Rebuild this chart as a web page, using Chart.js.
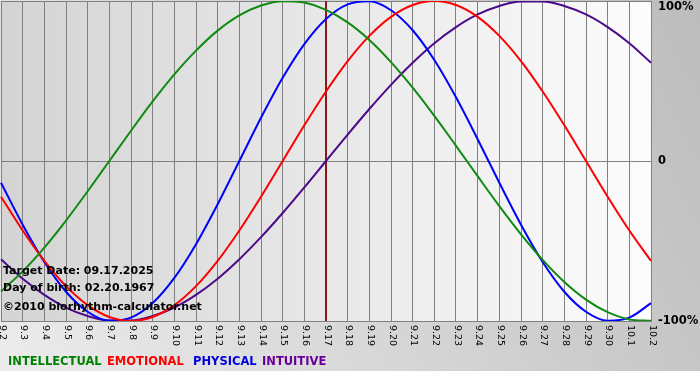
<!DOCTYPE html>
<html lang="en">
<head>
    <meta charset="UTF-8">
    <title>Biorhythm</title>
    <script src="https://cdn.jsdelivr.net/npm/chart.js"></script>
    <style>
        html, body { margin: 0; padding: 0; background: #fff; }
        canvas { display: block; }
    </style>
</head>
<body>
    <canvas id="bioChart" width="700" height="380"></canvas>

    <script>
        // day labels along the x axis
        const days = ['9.2', '9.3', '9.4', '9.5', '9.6', '9.7', '9.8', '9.9', '9.10', '9.11',
            '9.12', '9.13', '9.14', '9.15', '9.16', '9.17', '9.18', '9.19', '9.20', '9.21',
            '9.22', '9.23', '9.24', '9.25', '9.26', '9.27', '9.28', '9.29', '9.30', '10.1', '10.2'];

        // cycle values per day (-1 .. 1)
        const intellectual = [-0.815, -0.690, -0.541, -0.372, -0.189, 0, 0.189, 0.372, 0.541, 0.690,
            0.815, 0.910, 0.972, 0.999, 0.990, 0.945, 0.866, 0.756, 0.618, 0.458,
            0.282, 0.095, -0.095, -0.282, -0.458, -0.618, -0.756, -0.866, -0.945, -0.990, -0.999];
        const emotional = [-0.223, -0.434, -0.624, -0.782, -0.901, -0.975, -1, -0.975, -0.901, -0.782,
            -0.624, -0.434, -0.223, 0, 0.223, 0.434, 0.624, 0.782, 0.901, 0.975,
            1, 0.975, 0.901, 0.782, 0.624, 0.434, 0.223, 0, -0.223, -0.434, -0.624];
        const physical = [-0.136, -0.398, -0.631, -0.817, -0.942, -0.998, -0.979, -0.888, -0.731, -0.520,
            -0.270, 0, 0.270, 0.520, 0.731, 0.888, 0.979, 0.998, 0.942, 0.817,
            0.631, 0.398, 0.136, -0.136, -0.398, -0.631, -0.817, -0.942, -0.998, -0.979, -0.888];
        const intuitive = [-0.614, -0.736, -0.837, -0.916, -0.969, -0.997, -0.997, -0.969, -0.916, -0.837,
            -0.736, -0.614, -0.476, -0.325, -0.165, 0, 0.165, 0.325, 0.476, 0.614,
            0.736, 0.837, 0.916, 0.969, 0.997, 0.997, 0.969, 0.916, 0.837, 0.736, 0.614];

        const yTicks = [1, 0, -1];
        const yTickLabels = ['100%', '0', '-100%'];
        const targetLabel = '9.17';
        const infoLines = ['Target Date: 09.17.2025', 'Day of birth: 02.20.1967', '\u00a92010 biorhythm-calculator.net'];

        const seriesNames = ['INTELLECTUAL', 'EMOTIONAL', 'PHYSICAL', 'INTUITIVE'];
        const lineColors = ['#108a10', '#ff0000', '#0000ff', '#4b0a8a'];
        const legendColors = ['#008000', '#ff0000', '#0000dd', '#660099'];
        const legendX = [8, 107, 193, 262];

        const FONT = '"DejaVu Sans", Verdana, sans-serif';

        // backgrounds, target line, axis labels, info text and legend
        const decor = {
            id: 'decor',
            beforeDraw(chart) {
                const ctx = chart.ctx;
                const a = chart.chartArea;
                ctx.save();
                ctx.fillStyle = '#ffffff';
                ctx.fillRect(0, 0, chart.width, chart.height);
                const g = ctx.createLinearGradient(0, 370, 700, 0);
                g.addColorStop(0, '#ececec');
                g.addColorStop(1, '#bcbcbc');
                ctx.fillStyle = g;
                ctx.fillRect(0, 0, chart.width, 371);
                const pg = ctx.createLinearGradient(a.left, 0, a.right, 0);
                pg.addColorStop(0, '#d4d4d4');
                pg.addColorStop(1, '#fcfcfc');
                ctx.fillStyle = pg;
                ctx.fillRect(a.left, a.top, a.right - a.left, a.bottom - a.top);
                ctx.restore();
            },
            beforeDatasetsDraw(chart) {
                const ctx = chart.ctx;
                const a = chart.chartArea;
                const x = chart.scales.x.getPixelForValue(days.indexOf(targetLabel));
                ctx.save();
                ctx.strokeStyle = '#8b1a1a';
                ctx.lineWidth = 2;
                ctx.beginPath();
                ctx.moveTo(x, a.top);
                ctx.lineTo(x, a.bottom);
                ctx.stroke();
                ctx.restore();
            },
            afterDraw(chart) {
                const ctx = chart.ctx;
                const a = chart.chartArea;
                const xs = chart.scales.x;
                const ys = chart.scales.y;
                ctx.save();

                // rotated day labels
                ctx.fillStyle = '#000';
                ctx.font = '9.5px ' + FONT;
                ctx.textAlign = 'left';
                ctx.textBaseline = 'middle';
                days.forEach((d, i) => {
                    ctx.save();
                    ctx.translate(xs.getPixelForValue(i) + 1, a.bottom + 4);
                    ctx.rotate(Math.PI / 2);
                    ctx.fillText(d, 0, 0);
                    ctx.restore();
                });

                // percent labels on the right
                ctx.font = 'bold 11.5px ' + FONT;
                yTicks.forEach((v, i) => {
                    let y = ys.getPixelForValue(v);
                    if (v === 1) y += 6;
                    ctx.fillText(yTickLabels[i], a.right + 7, y);
                });

                // info text
                ctx.font = 'bold 11px ' + FONT;
                ctx.fillText(infoLines[0], 3, 271);
                ctx.fillText(infoLines[1], 3, 288);
                ctx.fillText(infoLines[2], 3, 307);

                // legend
                ctx.font = 'bold 11.5px ' + FONT;
                seriesNames.forEach((name, i) => {
                    ctx.fillStyle = legendColors[i];
                    ctx.fillText(name, legendX[i], 362);
                });
                ctx.restore();
            }
        };

        const datasets = [intellectual, emotional, physical, intuitive].map((data, i) => ({
            label: seriesNames[i],
            data: data,
            borderColor: lineColors[i],
            borderWidth: 2,
            pointRadius: 0,
            fill: false,
            cubicInterpolationMode: 'monotone'
        }));

        new Chart(document.getElementById('bioChart').getContext('2d'), {
            type: 'line',
            data: { labels: days, datasets: datasets },
            options: {
                responsive: false,
                animation: false,
                layout: { padding: { left: 1, top: 1, right: 49, bottom: 59 } },
                plugins: { legend: { display: false }, tooltip: { enabled: false } },
                scales: {
                    x: {
                        offset: false,
                        ticks: { display: false },
                        grid: { color: '#808080', lineWidth: 1, drawTicks: false },
                        border: { display: true, color: '#808080' }
                    },
                    y: {
                        min: -1,
                        max: 1,
                        ticks: { display: false, stepSize: 1 },
                        grid: { color: '#808080', lineWidth: 1, drawTicks: false },
                        border: { display: false }
                    }
                }
            },
            plugins: [decor]
        });
    </script>
</body>
</html>
